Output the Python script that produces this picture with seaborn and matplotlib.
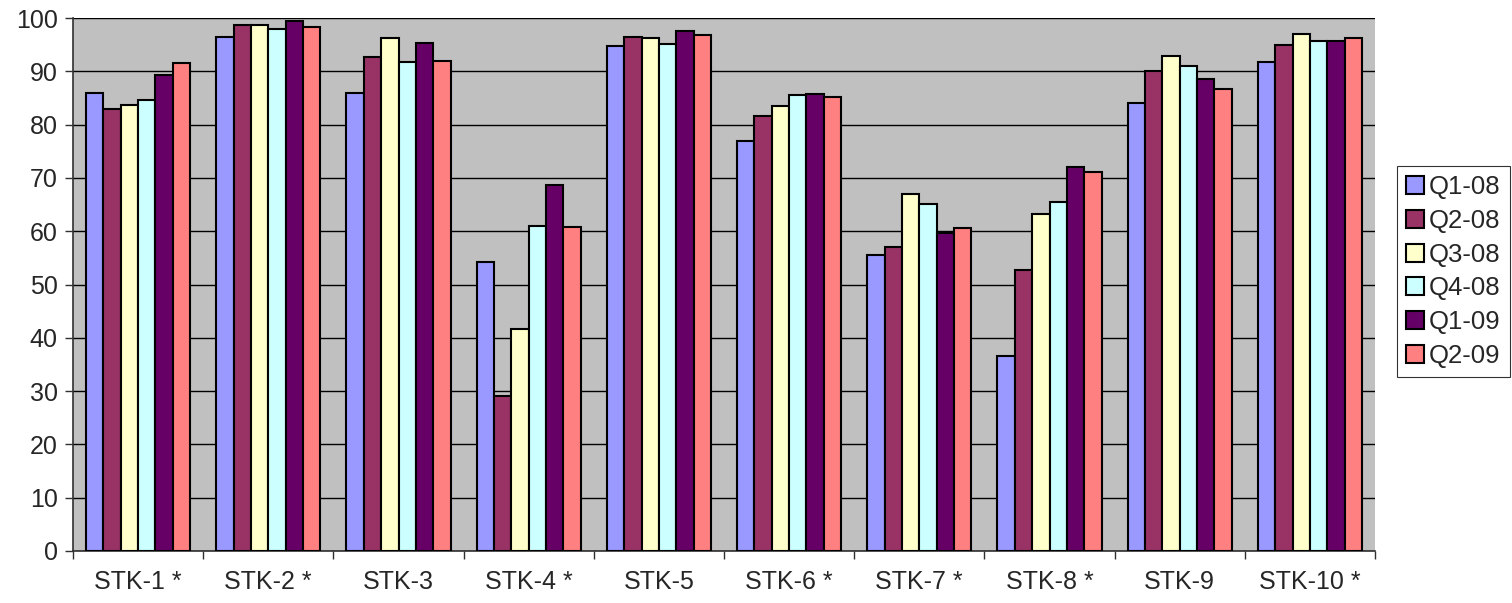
import numpy as np
import pandas as pd
import matplotlib
matplotlib.use("Agg")
import matplotlib.pyplot as plt
import seaborn as sns
from matplotlib.ticker import FixedLocator

stocks = ["STK-1 *", "STK-2 *", "STK-3", "STK-4 *", "STK-5",
          "STK-6 *", "STK-7 *", "STK-8 *", "STK-9", "STK-10 *"]
quarters = ["Q1-08", "Q2-08", "Q3-08", "Q4-08", "Q1-09", "Q2-09"]

q1_08 = [86.0, 96.5, 86.0, 54.3, 94.7, 77.0, 55.6, 36.5, 84.0, 91.8]
q2_08 = [83.0, 98.7, 92.7, 29.0, 96.4, 81.6, 57.0, 52.7, 90.1, 95.0]
q3_08 = [83.6, 98.6, 96.3, 41.7, 96.2, 83.4, 67.0, 63.3, 92.8, 97.0]
q4_08 = [84.6, 98.0, 91.7, 60.9, 95.2, 85.5, 65.1, 65.4, 91.0, 95.6]
q1_09 = [89.3, 99.5, 95.4, 68.6, 97.6, 85.7, 59.7, 72.1, 88.6, 95.7]
q2_09 = [91.5, 98.3, 92.0, 60.7, 96.8, 85.1, 60.6, 71.2, 86.7, 96.2]

colors = ["#9999FF", "#993366", "#FFFFCC", "#CCFFFF", "#660066", "#FF8080"]

series = [q1_08, q2_08, q3_08, q4_08, q1_09, q2_09]
df = pd.DataFrame({
    "stock": np.tile(stocks, len(quarters)),
    "quarter": np.repeat(quarters, len(stocks)),
    "value": np.concatenate(series),
})

sns.set_theme(style="white")
plt.rcParams["font.family"] = ["Liberation Sans", "DejaVu Sans"]

fig = plt.figure(figsize=(15.12, 6.03), dpi=100)
ax = fig.add_axes([73 / 1512, 52 / 603, (1375 - 73) / 1512, (551 - 18) / 603])
ax.set_facecolor("#C0C0C0")

sns.barplot(data=df, x="stock", y="value", hue="quarter", order=stocks,
            hue_order=quarters, palette=colors, saturation=1, width=0.8,
            errorbar=None, edgecolor="black", linewidth=1.5, ax=ax, zorder=3)

ax.set_ylim(0, 100)
ax.set_xlim(-0.5, len(stocks) - 0.5)
ax.set_yticks(range(0, 101, 10))
ax.yaxis.grid(True, color="black", linewidth=1.0, zorder=0)
ax.set_axisbelow(True)
ax.set_xlabel("")
ax.set_ylabel("")

for side in ["top", "right"]:
    ax.spines[side].set_visible(False)
for side in ["left", "bottom"]:
    ax.spines[side].set_color("#303030")
    ax.spines[side].set_linewidth(1.2)

ax.tick_params(axis="y", length=6, width=1, color="#303030", labelsize=18, pad=5, left=True)
ax.tick_params(axis="x", which="major", length=0, labelsize=18, pad=14)
ax.xaxis.set_minor_locator(FixedLocator(np.arange(-0.5, len(stocks), 1.0)))
ax.tick_params(axis="x", which="minor", length=6, width=1, color="#303030", bottom=True)

handles, labels = ax.get_legend_handles_labels()
ax.get_legend().remove()
leg = fig.legend(handles, labels, loc="upper left",
                 bbox_to_anchor=(1397 / 1512, 1 - 166 / 603),
                 frameon=True, fontsize=18.5, handlelength=0.7, handleheight=0.7,
                 handletextpad=0.2, labelspacing=0.38, borderpad=0.35,
                 borderaxespad=0, fancybox=False, edgecolor="black")
leg.get_frame().set_linewidth(0.8)

fig.savefig("out.png", dpi=100, facecolor="white")
